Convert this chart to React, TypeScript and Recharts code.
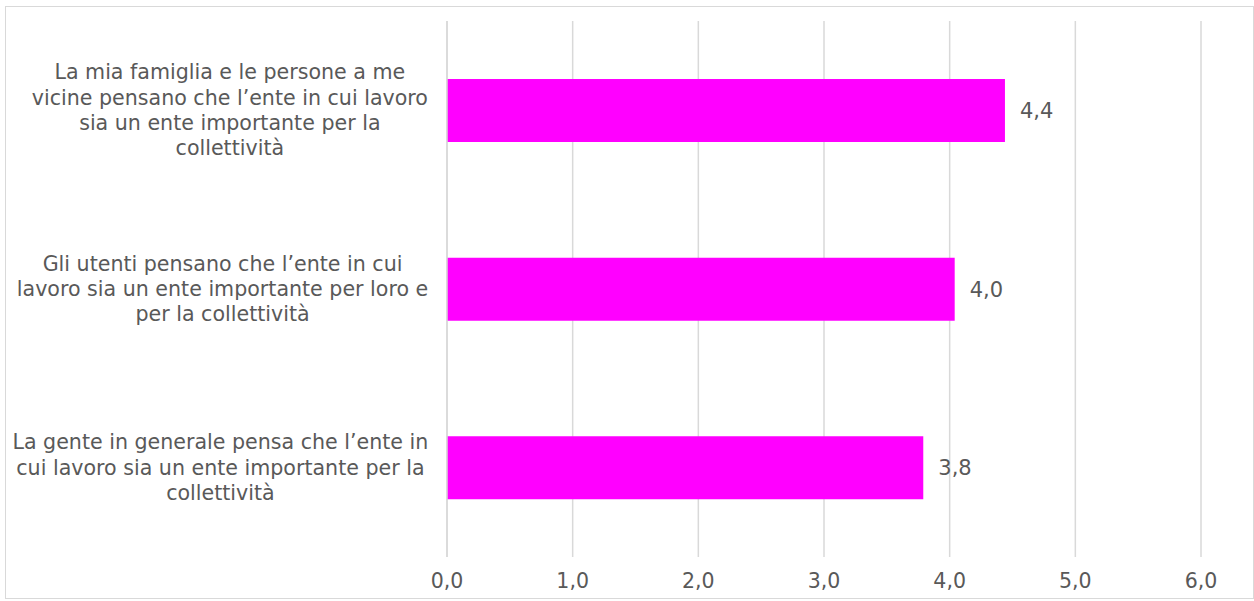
import React from 'react';
import { BarChart, Bar, XAxis, YAxis, CartesianGrid, LabelList } from 'recharts';

const CATEGORY_LINES = [
  ['La mia famiglia e le persone a me', 'vicine pensano che l’ente in cui lavoro', 'sia un ente importante per la', 'collettività'],
  ['Gli utenti pensano che l’ente in cui', 'lavoro sia un ente importante per loro e', 'per la collettività'],
  ['La gente in generale pensa che l’ente in', 'cui lavoro sia un ente importante per la', 'collettività'],
];
const VALUES = [4.44, 4.04, 3.79];
const X_TICKS = [0, 1, 2, 3, 4, 5, 6];

const FONT = '"DejaVu Sans", Verdana, sans-serif';
const TEXT = '#595959';
const GRID = '#d9d9d9';
const CAT_SIZE = 20.6;

const data = CATEGORY_LINES.map((lines, i) => ({ name: String(i), value: VALUES[i] }));

const fmt = (v: number) => v.toFixed(1).replace('.', ',');

let ctx: CanvasRenderingContext2D | null = null;
const measure = (s: string) => {
  if (!ctx) ctx = document.createElement('canvas').getContext('2d');
  if (!ctx) return s.length * 11;
  ctx.font = `${CAT_SIZE}px "DejaVu Sans"`;
  // il canvas misura un po' più largo del testo svg
  return ctx.measureText(s).width * 0.955;
};

// testo a più righe, centrato in un blocco allineato a destra
const CategoryTick = (props: any) => {
  const { x, y, payload } = props;
  const lines = CATEGORY_LINES[Number(payload.value)];
  const maxW = Math.max(...lines.map(measure));
  const cx = x - 20 - maxW / 2;
  const lh = 25.3;
  return (
    <g>
      {lines.map((l, i) => (
        <text
          key={i}
          x={cx}
          y={y + (i - (lines.length - 1) / 2) * lh + 7}
          textAnchor="middle"
          fill={TEXT}
          fontSize={CAT_SIZE}
          fontFamily={FONT}
        >
          {l}
        </text>
      ))}
    </g>
  );
};

const ValueTick = (props: any) => {
  const { x, y, payload } = props;
  return (
    <text x={x} y={y + 23} textAnchor="middle" fill={TEXT} fontSize={20.5} fontFamily={FONT}>
      {fmt(payload.value)}
    </text>
  );
};

export default function App() {
  return (
    <div style={{ position: 'absolute', left: 0, top: 0, width: 1254, height: 601, background: '#fff' }}>
      <div
        style={{
          position: 'absolute',
          left: 5,
          top: 6,
          width: 1249,
          height: 593,
          border: `1px solid ${GRID}`,
          boxSizing: 'border-box',
        }}
      />
      <div style={{ position: 'absolute', left: 0, top: 0 }}>
        <BarChart
          width={1254}
          height={601}
          data={data}
          layout="vertical"
          margin={{ top: 21, right: 53, bottom: 0, left: 0 }}
          barSize={63}
        >
          <CartesianGrid horizontal={false} vertical stroke={GRID} strokeWidth={1.5} />
          <XAxis
            type="number"
            domain={[0, 6]}
            ticks={X_TICKS}
            interval={0}
            axisLine={false}
            tickLine={false}
            height={44}
            tick={<ValueTick />}
          />
          <YAxis
            type="category"
            dataKey="name"
            width={447}
            axisLine={{ stroke: GRID, strokeWidth: 1.5 }}
            tickLine={false}
            tick={<CategoryTick />}
          />
          <Bar dataKey="value" fill="#ff00ff" isAnimationActive={false}>
            <LabelList
              dataKey="value"
              position="right"
              offset={15}
              formatter={(v: any) => fmt(Number(v))}
              fill={TEXT}
              fontSize={21}
              fontFamily={FONT}
            />
          </Bar>
        </BarChart>
      </div>
    </div>
  );
}
